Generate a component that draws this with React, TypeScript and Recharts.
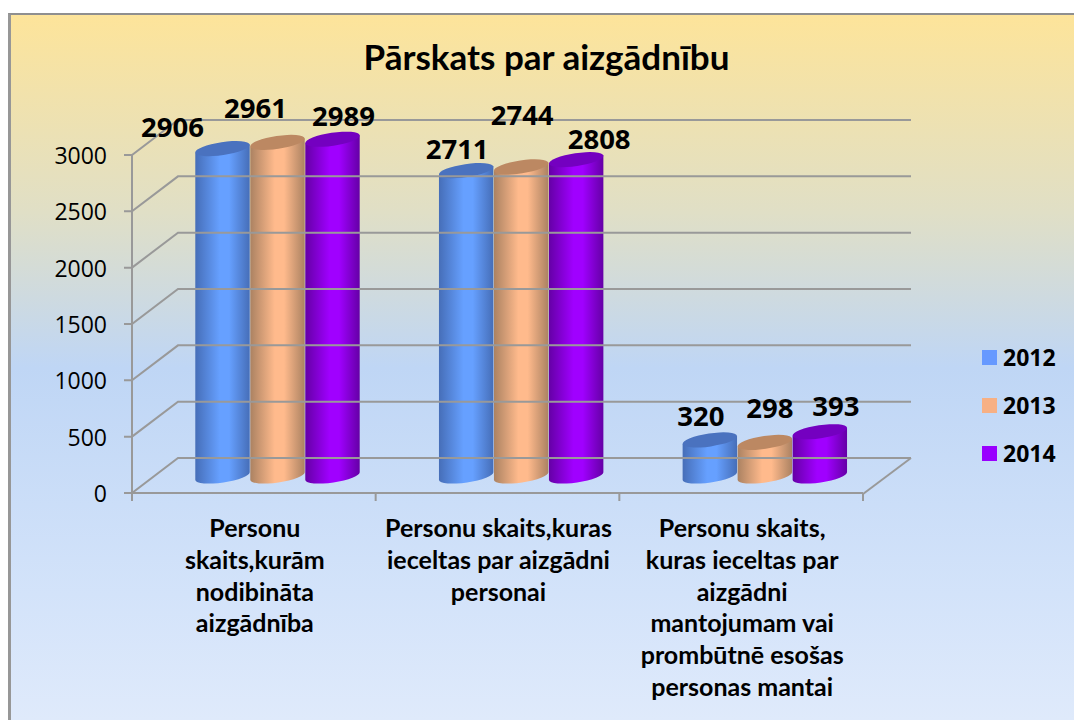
import React from 'react';
import { BarChart, Bar, XAxis, YAxis, Legend, LabelList } from 'recharts';

const categoryLines = [
  ['Personu', 'skaits,kurām', 'nodibināta', 'aizgādnība'],
  ['Personu skaits,kuras', 'ieceltas par aizgādni', 'personai'],
  ['Personu skaits,', 'kuras ieceltas par', 'aizgādni', 'mantojumam vai', 'prombūtnē esošas', 'personas mantai'],
];
const categories = categoryLines.map(lines => lines.join(' '));
const years = ['2012', '2013', '2014'];
const values2012 = [2906, 2711, 320];
const values2013 = [2961, 2744, 298];
const values2014 = [2989, 2808, 393];
const yTicks = [0, 500, 1000, 1500, 2000, 2500, 3000];

const data = categories.map((name, i) => ({
  name,
  y2012: values2012[i],
  y2013: values2013[i],
  y2014: values2014[i],
}));

const FONT = 'Lato, sans-serif';
// Lato's digits come out short, Open Sans is closer to the original numbers
const DIGIT_FONT = '"Open Sans", sans-serif';
const AXIS_COLOR = '#999999';
const PLOT_LEFT = 132;
const PLOT_RIGHT = 863;
const PLOT_TOP = 155;
const PLOT_BOTTOM = 493;
// 3d look: how far the back wall sits from the front axes
const DEPTH_X = 46;
const DEPTH_Y = -35;
// the cylinders stand in the middle of the floor
const BAR_DX = 23;
const BAR_DY = -17;

const colors = [
  { id: 'cyl2012', edge: '#466eb8', mid: '#66a0ff', top: '#4a72bf', key: '#6699ff' },
  { id: 'cyl2013', edge: '#ab8262', mid: '#ffba8c', top: '#bc8862', key: '#f7b084' },
  { id: 'cyl2014', edge: '#6500a6', mid: '#a000ff', top: '#7400c0', key: '#9900ff' },
];

// where Excel left each data label, relative to the top of its bar
const labelNudge = [
  [[-27, -39], [14, -39], [14, -41]],
  [[1, -52], [24, -69], [28, -52]],
  [[34, -41], [46, -38], [39, -43]],
];

const cylinder = (s: number) => (props: any) => {
  const { x, y, width, height } = props;
  const angle = 8.4;
  const rx = width / 2;
  const ry = 6.5;
  const cx = x + BAR_DX + rx;
  const topY = y + BAR_DY;
  const baseY = y + height + BAR_DY;
  const ex = rx * Math.cos((angle * Math.PI) / 180);
  const ey = rx * Math.sin((angle * Math.PI) / 180);
  const body =
    `M${cx - ex},${topY + ey} L${cx - ex},${baseY + ey} ` +
    `A${rx},${ry} ${-angle} 0 0 ${cx + ex},${baseY - ey} L${cx + ex},${topY - ey} Z`;
  return (
    <g>
      <path d={body} fill={`url(#${colors[s].id})`} />
      <ellipse
        cx={cx}
        cy={topY}
        rx={rx}
        ry={ry}
        fill={colors[s].top}
        transform={`rotate(${-angle} ${cx} ${topY})`}
      />
    </g>
  );
};

const dataLabel = (s: number) => (props: any) => {
  const { x, y, width, index, value } = props;
  const [dx, dy] = labelNudge[s][index];
  return (
    <text
      x={x + width / 2 + dx}
      y={y + dy}
      textAnchor="middle"
      dominantBaseline="central"
      fontFamily={DIGIT_FONT}
      fontWeight={700}
      fontSize={27.5}
      fill="#000"
    >
      {value}
    </text>
  );
};

// y tick also draws its wall line going back and across
const YTick = (props: any) => {
  const { x, y, payload } = props;
  const backX = x + DEPTH_X;
  const backY = y + DEPTH_Y;
  return (
    <g>
      <path
        d={`M${x - 8},${y} L${x},${y} L${backX},${backY} L${PLOT_RIGHT + DEPTH_X + 2},${backY}`}
        fill="none"
        stroke={AXIS_COLOR}
        strokeWidth={2}
      />
      {payload.value === 0 && (
        <path
          d={`M${PLOT_RIGHT},${y + 1} L${PLOT_RIGHT + DEPTH_X + 2},${backY}`}
          fill="none"
          stroke={AXIS_COLOR}
          strokeWidth={2}
        />
      )}
      <text
        x={x - 25}
        y={y}
        textAnchor="end"
        dominantBaseline="central"
        fontFamily={DIGIT_FONT}
        fontWeight={500}
        fontSize={23}
        fill="#000"
      >
        {payload.value}
      </text>
    </g>
  );
};

const XTick = (props: any) => {
  const { x, y, index } = props;
  const step = (PLOT_RIGHT - PLOT_LEFT) / categories.length;
  const left = x - step / 2;
  return (
    <g>
      <line x1={left} x2={left} y1={y} y2={y + 8} stroke={AXIS_COLOR} strokeWidth={2} />
      {index === categories.length - 1 && (
        <line x1={x + step / 2} x2={x + step / 2} y1={y} y2={y + 8} stroke={AXIS_COLOR} strokeWidth={2} />
      )}
      {categoryLines[index].map((line, i) => (
        <text
          key={line}
          x={x + 1}
          y={y + 44 + i * 31.8}
          textAnchor="middle"
          fontFamily={FONT}
          fontWeight={700}
          fontSize={25}
          fill="#000"
        >
          {line}
        </text>
      ))}
    </g>
  );
};

const LegendBox = () => (
  <div style={{ fontFamily: DIGIT_FONT, fontWeight: 700, fontSize: 23, color: '#000' }}>
    {years.map((year, i) => (
      <div key={year} style={{ display: 'flex', alignItems: 'center', height: 48 }}>
        <span style={{ width: 15, height: 15, background: colors[i].key, marginRight: 6 }} />
        {year}
      </div>
    ))}
  </div>
);

export default function App() {
  return (
    <div
      style={{
        position: 'absolute',
        left: 0,
        top: 0,
        width: 1074,
        height: 720,
        overflow: 'hidden',
        background: '#fff',
      }}
    >
      <div
        style={{
          position: 'absolute',
          left: 8,
          top: 13,
          width: 1066,
          height: 707,
          boxSizing: 'border-box',
          borderLeft: '3px solid #979797',
          borderTop: '2px solid #8f8f8f',
          background:
            'linear-gradient(180deg, #fde49a 0%, #e0dfc6 28%, #bfd6f5 50%, #d3e3fa 82%, #dfeafb 100%)',
        }}
      />
      <div
        style={{
          position: 'absolute',
          left: 0,
          top: 35,
          width: 1093,
          textAlign: 'center',
          fontFamily: FONT,
          fontWeight: 700,
          fontSize: 35,
          lineHeight: '42px',
          color: '#000',
        }}
      >
        Pārskats par aizgādnību
      </div>
      <div style={{ position: 'absolute', left: 0, top: 0 }}>
        <BarChart
          width={1074}
          height={720}
          data={data}
          margin={{ top: PLOT_TOP, right: 1074 - PLOT_RIGHT, bottom: 0, left: 0 }}
          barCategoryGap={40}
          barGap={0}
        >
          <defs>
            {colors.map(c => (
              <linearGradient key={c.id} id={c.id} x1="0" y1="0" x2="1" y2="0">
                <stop offset="0%" stopColor={c.edge} />
                <stop offset="45%" stopColor={c.mid} />
                <stop offset="62%" stopColor={c.mid} />
                <stop offset="100%" stopColor={c.edge} />
              </linearGradient>
            ))}
          </defs>
          <XAxis
            dataKey="name"
            height={720 - PLOT_BOTTOM}
            interval={0}
            tickLine={false}
            tickSize={0}
            tickMargin={0}
            axisLine={{ stroke: AXIS_COLOR, strokeWidth: 2 }}
            tick={XTick}
          />
          <YAxis
            width={PLOT_LEFT}
            domain={[0, 3000]}
            ticks={yTicks}
            interval={0}
            tickLine={false}
            tickSize={0}
            tickMargin={0}
            axisLine={{ stroke: AXIS_COLOR, strokeWidth: 2 }}
            tick={YTick}
          />
          <Legend
            layout="horizontal"
            verticalAlign="middle"
            align="center"
            content={LegendBox}
            wrapperStyle={{ left: 982, top: 333, width: 90 }}
          />
          <Bar dataKey="y2012" name="2012" isAnimationActive={false} shape={cylinder(0)}>
            <LabelList dataKey="y2012" content={dataLabel(0)} />
          </Bar>
          <Bar dataKey="y2013" name="2013" isAnimationActive={false} shape={cylinder(1)}>
            <LabelList dataKey="y2013" content={dataLabel(1)} />
          </Bar>
          <Bar dataKey="y2014" name="2014" isAnimationActive={false} shape={cylinder(2)}>
            <LabelList dataKey="y2014" content={dataLabel(2)} />
          </Bar>
        </BarChart>
      </div>
    </div>
  );
}
